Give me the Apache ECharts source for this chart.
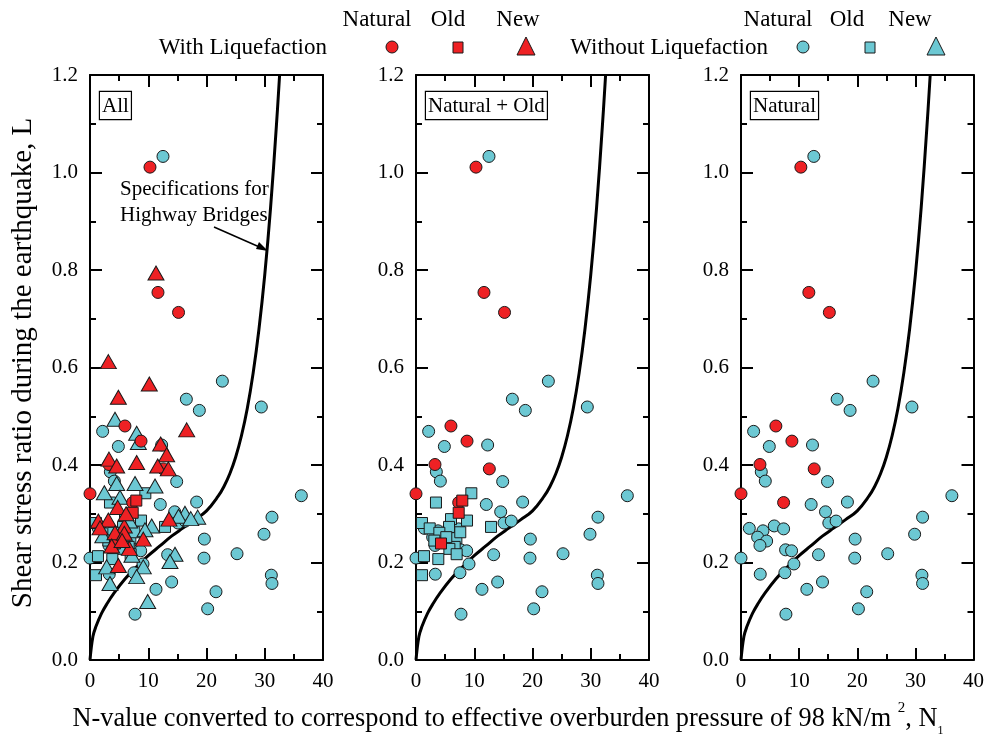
<!DOCTYPE html>
<html><head><meta charset="utf-8">
<script src="https://cdn.jsdelivr.net/npm/echarts@6/dist/echarts.min.js"></script>
<style>html,body{margin:0;padding:0;background:#fff}#c{width:987px;height:736px}</style>
</head><body><div id="c"></div>
<script>
// ---- data (N1, L) ----
const naturalLiq = [[10.3,1.011],[11.67,0.754],[15.2,0.713],[6.0,0.480],[8.76,0.449],[3.26,0.401],[12.59,0.392],[0,0.341],[7.33,0.323]];
const naturalNoLiq = [[12.53,1.033],[22.72,0.572],[16.54,0.535],[18.77,0.512],[29.41,0.519],[2.17,0.469],[4.87,0.438],[12.3,0.441],[3.49,0.386],[4.18,0.367],[14.88,0.366],[36.28,0.337],[12.07,0.319],[18.31,0.324],[14.54,0.304],[31.24,0.293],[15.11,0.281],[16.36,0.285],[1.43,0.270],[3.78,0.265],[5.72,0.275],[7.33,0.269],[2.86,0.252],[4.41,0.244],[3.26,0.235],[29.87,0.258],[19.63,0.248],[7.67,0.226],[8.70,0.224],[13.33,0.216],[19.57,0.209],[25.24,0.218],[0,0.209],[9.1,0.197],[7.55,0.179],[3.31,0.176],[31.13,0.174],[31.24,0.157],[14.02,0.160],[11.33,0.145],[21.63,0.140],[20.2,0.105],[7.73,0.094]];
const oldLiq = [[7.95,0.327],[7.33,0.302],[4.29,0.239]];
const oldNoLiq = [[9.5,0.342],[3.43,0.323],[1.03,0.281],[2.35,0.270],[6.01,0.289],[8.76,0.286],[5.67,0.273],[12.88,0.273],[4.01,0.261],[3.15,0.245],[6.93,0.250],[6.64,0.232],[5.73,0.228],[6.98,0.217],[1.37,0.213],[3.83,0.207],[1.03,0.174],[7.6,0.262],[5.2,0.252]];
const newLiq = [[3.15,0.612],[10.18,0.566],[4.87,0.539],[11.33,0.794],[16.6,0.472],[12.13,0.443],[13.16,0.421],[8.01,0.405],[3.26,0.412],[4.58,0.398],[11.62,0.398],[13.45,0.392],[4.75,0.313],[13.56,0.289],[1.43,0.285],[3.15,0.287],[5.89,0.275],[1.72,0.271],[4.29,0.261],[5.89,0.260],[9.15,0.248],[3.72,0.234],[6.75,0.229],[4.87,0.194],[6.2,0.300],[5.5,0.245]];
const newNoLiq = [[4.29,0.494],[8.01,0.465],[8.3,0.446],[4.58,0.362],[7.73,0.362],[11.16,0.357],[2.46,0.343],[5.15,0.334],[16.3,0.301],[18.49,0.293],[10.59,0.275],[9.44,0.267],[14.59,0.217],[13.73,0.202],[9.15,0.191],[8.01,0.171],[3.43,0.157],[9.9,0.120],[2.86,0.191],[15.2,0.295],[17.3,0.290],[6.8,0.285],[2.2,0.255],[7.2,0.215]];
// Specifications for Highway Bridges curve
const curveN = [0,0.5,1,2,3,4,6,8,10,12,14,16,18,20,22,23,24,25,26,27,28,29,30,31,32,32.55];
const curveL = [0,0.048,0.068,0.096,0.117,0.135,0.166,0.191,0.214,0.234,0.254,0.271,0.288,0.306,0.336,0.356,0.382,0.416,0.460,0.516,0.588,0.678,0.790,0.928,1.096,1.2];
const xTicks = [0,10,20,30,40];
const yTicks = [0.0,0.2,0.4,0.6,0.8,1.0,1.2];
const panelLabels = ['All','Natural + Old','Natural'];

const RED = '#ee2124', CYAN = '#6cc8d3';
const FONT = 'Liberation Serif';
const lefts = [90, 416, 741];
const W = 233, TOP = 75, H = 585;

const grid = [], xAxis = [], yAxis = [], series = [];
const tickCommon = {inside:true, length:12, lineStyle:{color:'#000', width:2}};
const minorCommon = {show:true, splitNumber:2, length:6, lineStyle:{color:'#000', width:2}};
lefts.forEach((l,i)=>{
  grid.push({left:l, top:TOP, width:W, height:H});
  xAxis[i] = {gridIndex:i, type:'value', min:xTicks[0], max:xTicks[xTicks.length-1], interval:10, position:'bottom',
    axisLine:{show:true, onZero:false, lineStyle:{color:'#000', width:2}}, axisTick:tickCommon, minorTick:minorCommon,
    splitLine:{show:false}, axisLabel:{color:'#000', fontFamily:FONT, fontSize:21, margin:11}};
  xAxis[i+3] = {gridIndex:i, type:'value', min:0, max:40, interval:10, position:'top',
    axisLine:{show:true, onZero:false, lineStyle:{color:'#000', width:2}}, axisTick:tickCommon, minorTick:minorCommon,
    splitLine:{show:false}, axisLabel:{show:false}};
  yAxis[i] = {gridIndex:i, type:'value', min:yTicks[0], max:yTicks[yTicks.length-1], interval:0.2, position:'left',
    axisLine:{show:true, onZero:false, lineStyle:{color:'#000', width:2}}, axisTick:tickCommon, minorTick:minorCommon,
    splitLine:{show:false}, axisLabel:{color:'#000', fontFamily:FONT, fontSize:21, margin:12, formatter:v=>v.toFixed(1)}};
  yAxis[i+3] = {gridIndex:i, type:'value', min:0, max:1.2, interval:0.2, position:'right',
    axisLine:{show:true, onZero:false, lineStyle:{color:'#000', width:2}}, axisTick:tickCommon, minorTick:minorCommon,
    splitLine:{show:false}, axisLabel:{show:false}};
  series.push({type:'line', xAxisIndex:i, yAxisIndex:i, data:curveN.map((n,k)=>[n,curveL[k]]), smooth:0.4,
    showSymbol:false, lineStyle:{color:'#000', width:3}, z:1, silent:true});
});
function sc(i, data, symbol, size, color, z){
  series.push({type:'scatter', xAxisIndex:i, yAxisIndex:i, data, symbol, symbolSize:size,
    itemStyle:{color, borderColor:'#1a1a1a', borderWidth:1, opacity:1}, z, silent:true});
}
[0,1,2].forEach(i=>{
  sc(i, naturalNoLiq, 'circle', 12, CYAN, 2);
  if(i<2) sc(i, oldNoLiq, 'rect', 11, CYAN, 2);
  if(i<1) sc(i, newNoLiq, 'triangle', [16,14], CYAN, 2);
  sc(i, naturalLiq, 'circle', 12, RED, 3);
  if(i<2) sc(i, oldLiq, 'rect', 11, RED, 3);
  if(i<1) sc(i, newLiq, 'triangle', [16,14], RED, 3);
});

const tStyle = (txt,x,y,size,align)=>({type:'text', x, y, style:{text:txt, fontFamily:FONT, fontSize:size, fill:'#000', textAlign:align||'center', textVerticalAlign:'middle'}});
const graphic = [
  tStyle('Natural',377,20,23), tStyle('Old',448,20,23), tStyle('New',518,20,23),
  tStyle('Natural',778,20,23), tStyle('Old',847,20,23), tStyle('New',910,20,23),
  tStyle('With Liquefaction',327,48,23,'right'), tStyle('Without Liquefaction',768,48,23,'right'),
  {type:'circle', shape:{cx:392,cy:47,r:6}, style:{fill:RED, stroke:'#1a1a1a', lineWidth:1}},
  {type:'rect', shape:{x:453,y:42,width:10,height:11}, style:{fill:RED, stroke:'#1a1a1a', lineWidth:1}},
  {type:'polygon', shape:{points:[[526,37],[535,55],[517,55]]}, style:{fill:RED, stroke:'#1a1a1a', lineWidth:1}},
  {type:'circle', shape:{cx:803,cy:47,r:6}, style:{fill:CYAN, stroke:'#1a1a1a', lineWidth:1}},
  {type:'rect', shape:{x:865,y:42,width:10,height:11}, style:{fill:CYAN, stroke:'#1a1a1a', lineWidth:1}},
  {type:'polygon', shape:{points:[[936,37],[945,55],[927,55]]}, style:{fill:CYAN, stroke:'#1a1a1a', lineWidth:1}},
  // annotation
  {type:'text', x:120, y:176, style:{text:'Specifications for\nHighway Bridges', fontFamily:FONT, fontSize:21, lineHeight:26, fill:'#000', textAlign:'left'}},
  {type:'line', shape:{x1:214,y1:227,x2:264,y2:249}, style:{stroke:'#000', lineWidth:1.5}},
  {type:'polygon', shape:{points:[[268,251],[256,249],[259,242]]}, style:{fill:'#000'}},
  // axis titles
  {type:'text', x:23, y:363, rotation:Math.PI/2, style:{text:'Shear stress ratio during the earthquake, L', fontFamily:FONT, fontSize:29, fill:'#000', textAlign:'center', textVerticalAlign:'middle'}},
  {type:'text', x:508, y:719, style:{text:'N-value converted to correspond to effective overburden pressure of 98 kN/m {sup|2}, N{sub|1}', fontFamily:FONT, fontSize:26.3, fill:'#000', textAlign:'center', textVerticalAlign:'middle',
    rich:{sup:{fontFamily:FONT, fontSize:15, verticalAlign:'top', lineHeight:36}, sub:{fontFamily:FONT, fontSize:12, verticalAlign:'bottom', lineHeight:26}}}}
];
panelLabels.forEach((t,i)=>{
  graphic.push({type:'text', x:lefts[i]+10, y:92, z:10, style:{text:t, fontFamily:FONT, fontSize:21, lineHeight:22, fill:'#000',
    backgroundColor:'#fff', borderColor:'#000', borderWidth:1.2, padding:[3,2,2,2]}});
});

const chart = echarts.init(document.getElementById('c'), null, {renderer:'canvas'});
chart.setOption({animation:false, backgroundColor:'#fff', grid, xAxis, yAxis, series, graphic});
</script></body></html>
